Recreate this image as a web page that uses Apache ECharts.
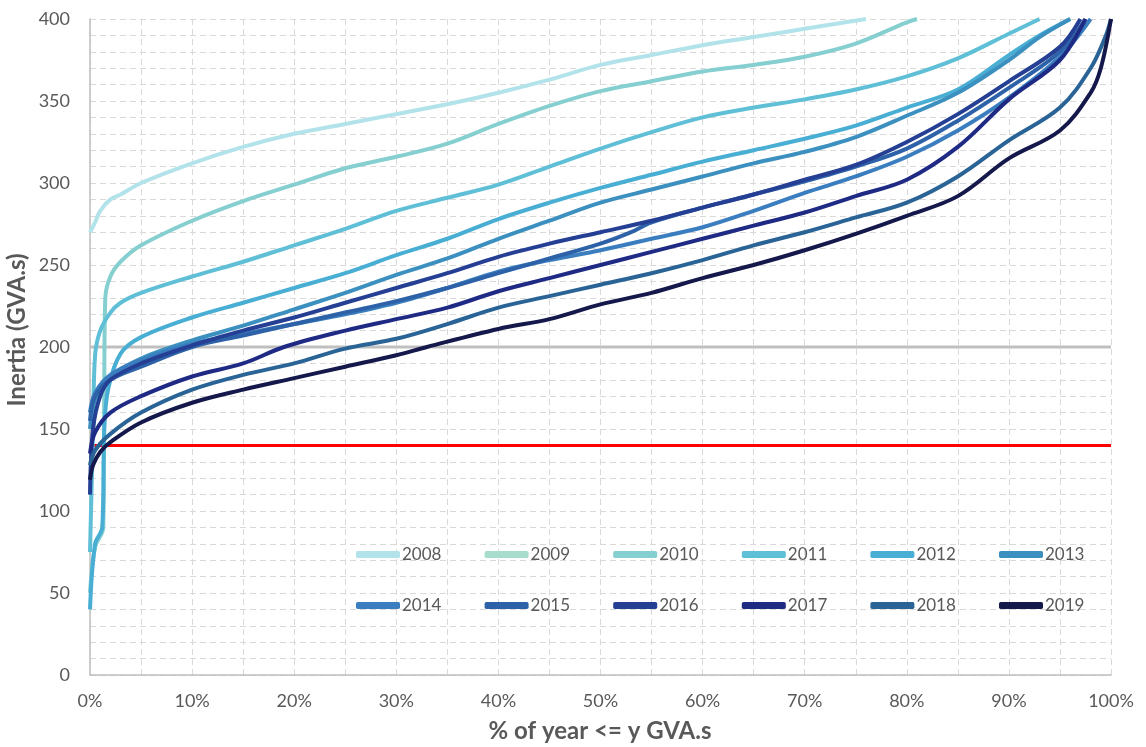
<!DOCTYPE html>
<html>
<head>
<meta charset="utf-8">
<script src="https://cdn.jsdelivr.net/npm/echarts@6/dist/echarts.min.js"></script>
<style>html,body{margin:0;padding:0;background:#fff}#c{width:1146px;height:747px}</style>
</head>
<body>
<div id="c"></div>
<script>
// ---- data: [percent of year, inertia GVA.s] ----
const years = ['2008','2009','2010','2011','2012','2013','2014','2015','2016','2017','2018','2019'];
const colors = ['#b3e3ea','#a8dccd','#86cfd0','#5fbfd6','#48aed3','#3c90c0','#3a7ebf','#2d62a8','#243f93','#1f2a85','#2a6496','#14184b'];
const xTicks = [0,10,20,30,40,50,60,70,80,90,100];
const yTicks = [0,50,100,150,200,250,300,350,400];

const s2008 = [[0,270],[0.5,276],[1,283],[2,290],[3,293],[5,300],[10,312],[15,322],[20,330],[25,336],[30,342],[35,348],[40,355],[45,363],[50,372],[55,378],[60,384],[65,389],[70,394],[74,398],[76,400]];
const s2009 = [];
const s2010 = [[0,50],[0.5,78],[1.3,90],[1.4,180],[1.5,230],[2,243],[3,252],[5,262],[10,277],[15,289],[20,299],[25,309],[30,316],[35,324],[40,336],[45,347],[50,356],[55,362],[60,368],[65,372],[70,377],[75,385],[80,398],[81,400]];
const s2011 = [[0,75],[0.3,150],[0.5,195],[1,210],[2,221],[3,227],[5,233],[10,243],[15,252],[20,262],[25,272],[30,283],[35,291],[40,299],[45,310],[50,321],[55,331],[60,340],[65,346],[70,351],[75,357],[80,365],[85,376],[90,391],[93,400]];
const s2012 = [[0,40],[0.5,80],[1.2,90],[1.4,150],[1.8,175],[3,196],[5,206],[10,218],[15,227],[20,236],[25,245],[30,256],[35,266],[40,278],[45,288],[50,297],[55,305],[60,313],[65,320],[70,327],[75,335],[80,346],[85,357],[90,378],[93,390],[96,400]];
const s2013 = [[0,150],[0.5,168],[2,182],[5,193],[10,204],[15,213],[20,223],[25,233],[30,244],[35,254],[40,266],[45,277],[50,288],[55,296],[60,304],[65,312],[70,319],[75,328],[80,341],[85,355],[90,375],[93,389],[96,400]];
const s2014 = [[0,160],[0.5,172],[2,183],[5,192],[10,202],[15,208],[20,214],[25,220],[30,227],[35,236],[40,246],[45,253],[50,259],[55,266],[60,273],[65,283],[70,294],[75,304],[80,316],[85,332],[90,352],[95,377],[98,400]];
const s2015 = [[0,155],[0.5,170],[2,180],[5,188],[10,200],[15,207],[20,214],[25,221],[30,228],[35,236],[40,245],[45,254],[50,263],[53,270],[55,276],[60,285],[65,293],[70,301],[75,310],[80,321],[85,338],[90,358],[95,380],[97.5,400]];
const s2016 = [[0,110],[0.3,150],[1,170],[2,180],[5,190],[10,201],[15,210],[20,218],[25,227],[30,236],[35,245],[40,255],[45,263],[50,270],[55,277],[60,285],[65,293],[70,302],[75,311],[80,325],[85,342],[90,362],[95,383],[97,400]];
const s2017 = [[0,135],[0.5,148],[2,160],[5,170],[10,182],[15,190],[19,200],[25,210],[30,217],[35,224],[40,234],[45,242],[50,250],[55,258],[60,266],[65,274],[70,282],[75,292],[80,302],[85,322],[90,351],[95,375],[97.5,400]];
const s2018 = [[0,128],[0.5,137],[2,147],[5,160],[10,174],[15,183],[20,190],[25,199],[30,205],[35,214],[40,224],[45,231],[50,238],[55,245],[60,253],[65,262],[70,270],[75,279],[80,288],[85,304],[90,326],[95,346],[98,370],[99.5,390],[100,400]];
const s2019 = [[0,119],[0.3,128],[1,136],[2,142],[5,154],[10,166],[15,174],[20,181],[25,188],[30,195],[33,200],[40,211],[45,217],[50,226],[55,233],[60,242],[65,250],[70,259],[75,269],[80,280],[85,292],[90,315],[95,332],[98,355],[99,370],[100,400]];
const seriesData = [s2008,s2009,s2010,s2011,s2012,s2013,s2014,s2015,s2016,s2017,s2018,s2019];

const refGray = [[0,200],[100,200]];
const refRed = [[0,140],[100,140]];

const FONT = 'Lato';
const TXT = '#595959';

const chart = echarts.init(document.getElementById('c'), null, {renderer:'canvas'});

const series = [
  {name:'ref200', type:'line', data:refGray, showSymbol:false, silent:true, z:1,
   lineStyle:{color:'#bfbfbf', width:3}, itemStyle:{color:'#bfbfbf'}},
  {name:'ref140', type:'line', data:refRed, showSymbol:false, silent:true, z:1,
   lineStyle:{color:'#ff0000', width:3}, itemStyle:{color:'#ff0000'}}
];
years.forEach((y,i)=>{
  series.push({
    name:y, type:'line', data:seriesData[i], showSymbol:false,
    smooth:0.35, z:2+i,
    lineStyle:{color:colors[i], width: y==='2009'?2:4},
    itemStyle:{color:colors[i]}
  });
});

// one vertical legend per column: 2 items each
const legends = [];
for (let c = 0; c < 6; c++) {
  legends.push({
    orient:'vertical', left: 351 + c*128.6, top: 541, itemWidth:44, itemHeight:7,
    icon:'roundRect', itemGap:34,
    textStyle:{fontFamily:FONT, fontSize:17, color:TXT, padding:[0,0,0,-3]},
    data:[years[c], years[c+6]]
  });
}

chart.setOption({
  animation:false,
  backgroundColor:'#fff',
  grid:{left:90, right:35, top:19, bottom:72, containLabel:false},
  legend: legends,
  xAxis:{
    type:'value', min:0, max:100, interval:10,
    axisLine:{show:true, lineStyle:{color:'#bfbfbf', width:1.5}},
    axisTick:{show:false},
    axisLabel:{formatter:'{value}%', fontFamily:FONT, fontSize:18, color:TXT, margin:17,
      customValues: xTicks},
    splitLine:{show:true, lineStyle:{color:'#d9d9d9', type:[6,4], width:1}},
    minorTick:{show:false, splitNumber:2},
    minorSplitLine:{show:true, lineStyle:{color:'#d9d9d9', type:[6,4], width:1}}
  },
  yAxis:{
    type:'value', min:0, max:400, interval:50,
    axisLine:{show:true, lineStyle:{color:'#bfbfbf', width:1.5}},
    axisTick:{show:false},
    axisLabel:{fontFamily:FONT, fontSize:18, color:TXT, margin:20, customValues: yTicks},
    splitLine:{show:true, lineStyle:{color:'#d9d9d9', type:[6,4], width:1}},
    minorTick:{show:false, splitNumber:5},
    minorSplitLine:{show:true, lineStyle:{color:'#d9d9d9', type:[6,4], width:1}}
  },
  graphic:[
    {type:'text', x:600, y:719, style:{text:'% of year <= y GVA.s', font:'bold 24px '+FONT, fill:TXT, align:'center', verticalAlign:'top'}},
    {type:'text', x:5, y:330, rotation:Math.PI/2, style:{text:'Inertia (GVA.s)', font:'bold 24px '+FONT, fill:TXT, align:'center', verticalAlign:'top'}}
  ],
  series:series
});
</script>
</body>
</html>
